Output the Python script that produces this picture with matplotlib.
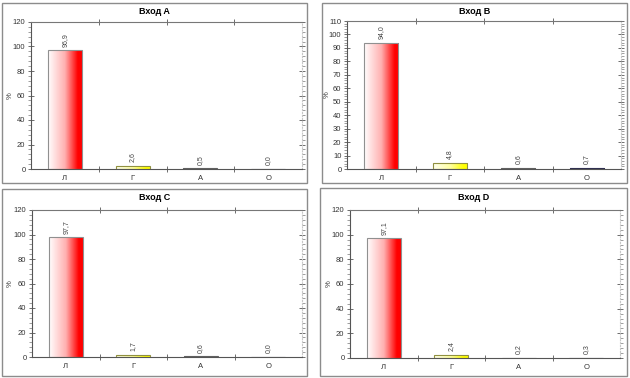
import matplotlib
matplotlib.use('Agg')
import matplotlib.pyplot as plt
import numpy as np
from matplotlib.colors import LinearSegmentedColormap
from matplotlib.patches import Rectangle
from matplotlib.ticker import MultipleLocator

plt.rcParams['font.family'] = ['Liberation Sans', 'DejaVu Sans']

categories = ['Л', 'Г', 'А', 'О']
titles = ['Вход A', 'Вход B', 'Вход C', 'Вход D']
values_a = [96.9, 2.6, 0.5, 0.0]
values_b = [94.0, 4.8, 0.6, 0.7]
values_c = [97.7, 1.7, 0.6, 0.0]
values_d = [97.1, 2.4, 0.2, 0.3]
ymax = [120, 110, 120, 120]
ystep = [20, 10, 20, 20]

series = [values_a, values_b, values_c, values_d]

# gradient maps for each category (light on left -> saturated on right)
cmaps = [
    LinearSegmentedColormap.from_list('red', [(0, '#ffffff'), (0.5, '#ffb0b0'),
                                              (0.88, '#ff0000'), (1, '#ff0000')], N=256),
    LinearSegmentedColormap.from_list('yel', [(0, '#fffff0'), (0.5, '#ffffa0'),
                                              (0.88, '#ffff00'), (1, '#ffff00')], N=256),
    LinearSegmentedColormap.from_list('gry', ['#a0a0a0', '#707070'], N=256),
    LinearSegmentedColormap.from_list('nav', ['#404070', '#202050'], N=256),
]
edges = ['#909090', '#909040', '#606060', '#303050']

W, H = 630, 378
fig = plt.figure(figsize=(W / 100, H / 100), dpi=100)

# panel frames (pixels: x0, y0_top, x1, y1_bottom) and axes rects
frames = [(2, 3, 307, 183), (322, 3, 627, 183), (2, 189, 307, 376), (320, 188, 627, 376)]
axrects = [(31, 22, 302, 169), (347, 21, 621, 169), (32, 210, 302, 357), (350, 210, 620, 358)]
label_off = [-17, -16, -18, -17]  # px offset of the "%" label from the axis

grad = np.linspace(0, 1, 256).reshape(1, -1)

for i in range(4):
    fx0, fy0, fx1, fy1 = frames[i]
    fig.patches.append(Rectangle((fx0 / W, 1 - fy1 / H), (fx1 - fx0) / W, (fy1 - fy0) / H,
                                 transform=fig.transFigure, fill=False,
                                 edgecolor='#8c8c8c', linewidth=1.0))
    fig.text((fx0 + fx1) / 2 / W, 1 - (fy0 + 9) / H, titles[i], ha='center', va='center',
             fontsize=6.5, fontweight='bold')

    x0, y0, x1, y1 = axrects[i]
    ax = fig.add_axes([x0 / W, 1 - y1 / H, (x1 - x0) / W, (y1 - y0) / H])
    vals = series[i]
    x = np.arange(len(categories))
    bars = ax.bar(x, vals, width=0.5, color='none', edgecolor=edges, linewidth=0.8, zorder=3)
    for j, b in enumerate(bars):
        if b.get_height() > 0:
            im = ax.imshow(grad, cmap=cmaps[j], aspect='auto', zorder=2,
                           extent=(b.get_x(), b.get_x() + b.get_width(), 0, b.get_height()))
            im.set_clip_path(b)
        ax.text(b.get_x() + b.get_width() / 2, b.get_height() + ymax[i] * 0.025,
                f'{vals[j]:.1f}'.replace('.', ','), rotation=90, ha='center', va='bottom',
                fontsize=5, color='#444444')

    ax.set_xlim(-0.5, 3.5)
    ax.set_ylim(0, ymax[i])
    ax.set_xticks(x)
    ax.set_xticklabels(categories)
    ax.set_xticks([0.5, 1.5, 2.5], minor=True)
    ax.yaxis.set_major_locator(MultipleLocator(ystep[i]))
    ax.yaxis.set_minor_locator(MultipleLocator(2 if ystep[i] == 10 else 4))
    ax.tick_params(axis='x', which='major', length=0, labelsize=5.5, pad=4, labelcolor='#333333')
    ax.tick_params(axis='x', which='minor', direction='inout', length=4, top=True, bottom=True,
                   color='#555555', width=0.6)
    ax.tick_params(axis='y', which='major', direction='inout', length=4, labelsize=5.5,
                   right=True, color='#555555', width=0.6, labelcolor='#333333', pad=2)
    ax.tick_params(axis='y', which='minor', direction='out', length=2, right=True,
                   color='#777777', width=0.5)
    ax.spines['left'].set_color('#555555')
    ax.spines['bottom'].set_color('#555555')
    ax.spines['top'].set_color('#777777')
    ax.spines['right'].set_color('#c8c8c8')
    ax.spines['right'].set_linestyle(':')
    for s in ax.spines.values():
        s.set_linewidth(0.8)
    ax.set_ylabel('%', fontsize=5.5, color='#333333')
    ax.yaxis.set_label_coords(label_off[i] / (x1 - x0), 0.5)

fig.savefig('out.png', dpi=100)
